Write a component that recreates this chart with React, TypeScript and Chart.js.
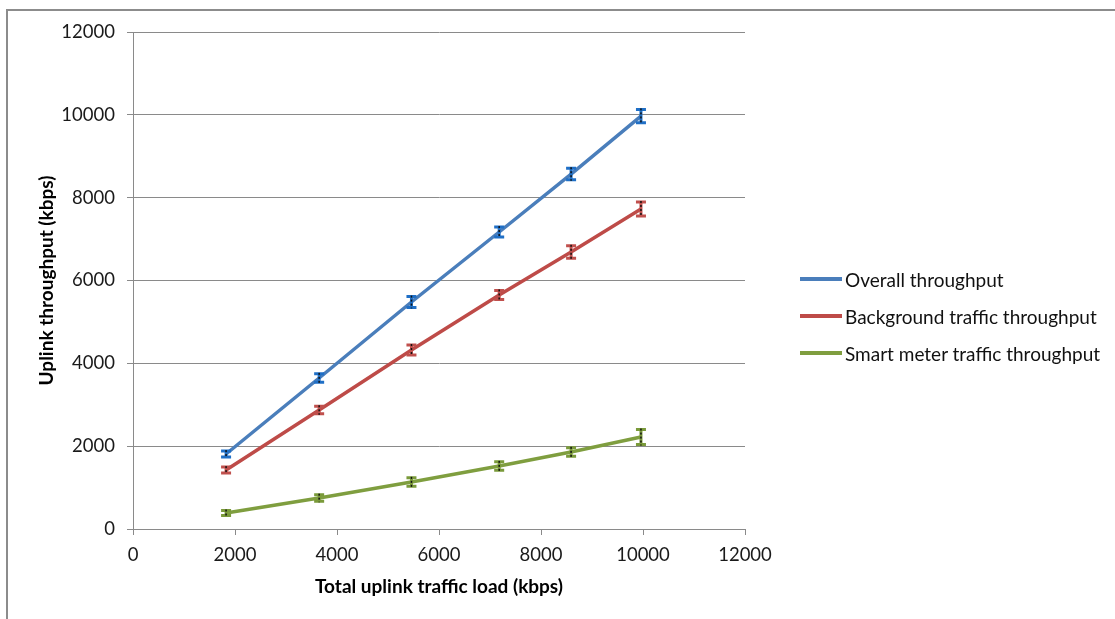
import React, { useEffect, useRef } from "react";
import { Chart, registerables } from "chart.js";

Chart.register(...registerables);

// Offered uplink load (kbps)
const loads = [1825, 3650, 5460, 7180, 8590, 9960];

// Measured throughput per traffic class (kbps)
const overall = [1811, 3646, 5481, 7171, 8571, 9971];
const background = [1424, 2873, 4322, 5650, 6688, 7726];
const smartMeter = [386, 749, 1135, 1521, 1859, 2221];

// Half-width of the error bars (kbps)
const overallErr = [70, 100, 130, 120, 140, 160];
const backgroundErr = [70, 90, 120, 110, 150, 170];
const smartMeterErr = [60, 80, 100, 100, 100, 180];

const seriesNames = [
  "Overall throughput",
  "Background traffic throughput",
  "Smart meter traffic throughput",
];
const lineColors = ["#4a7ebb", "#be4b48", "#7f9e3f"];
const capColors = ["#1f6fc6", "#c0504d", "#7a9a3a"];

const yTicks = [0, 2000, 4000, 6000, 8000, 10000, 12000];

const FONT = "Lato, 'Open Sans', sans-serif";

const errorBarPlugin = {
  id: "errorBars",
  afterDatasetsDraw(chart: any) {
    const { ctx, scales } = chart;
    const xs = scales.x;
    const ys = scales.y;
    chart.data.datasets.forEach((ds: any, di: number) => {
      const errs: number[] = ds.errors || [];
      ds.data.forEach((pt: any, i: number) => {
        const e = errs[i] || 0;
        const px = xs.getPixelForValue(pt.x);
        const top = ys.getPixelForValue(pt.y + e);
        const bot = ys.getPixelForValue(pt.y - e);
        ctx.save();
        ctx.strokeStyle = capColors[di];
        ctx.lineWidth = 3;
        ctx.beginPath();
        ctx.moveTo(px, top);
        ctx.lineTo(px, bot);
        ctx.moveTo(px - 5, top);
        ctx.lineTo(px + 5, top);
        ctx.moveTo(px - 5, bot);
        ctx.lineTo(px + 5, bot);
        ctx.stroke();
        ctx.strokeStyle = "#111";
        ctx.lineWidth = 1.5;
        ctx.setLineDash([2, 2]);
        ctx.beginPath();
        ctx.moveTo(px, top - 1);
        ctx.lineTo(px, bot + 1);
        ctx.stroke();
        ctx.restore();
      });
    });
  },
};

export default function App() {
  const canvasRef = useRef<HTMLCanvasElement | null>(null);

  useEffect(() => {
    const canvas = canvasRef.current;
    if (!canvas) return;
    const values = [overall, background, smartMeter];
    const errors = [overallErr, backgroundErr, smartMeterErr];
    const chart = new Chart(canvas, {
      type: "scatter",
      data: {
        datasets: values.map((vals, k) => ({
          label: seriesNames[k],
          data: loads.map((x, i) => ({ x, y: vals[i] })),
          errors: errors[k],
          showLine: true,
          borderColor: lineColors[k],
          backgroundColor: lineColors[k],
          borderWidth: 3.5,
          pointRadius: 0,
          pointHoverRadius: 0,
          tension: 0,
        })) as any,
      },
      options: {
        responsive: false,
        animation: false,
        devicePixelRatio: 1,
        layout: { padding: { left: 0, top: 32, right: 370, bottom: 0 } },
        plugins: {
          legend: { display: false },
          tooltip: { enabled: false },
        },
        scales: {
          x: {
            type: "linear",
            min: 0,
            max: 12000,
            afterFit: (s: any) => {
              s.height = 90;
            },
            ticks: {
              stepSize: 2000,
              color: "#1a1a1a",
              padding: 9,
              font: { family: FONT, size: 18.5 },
              callback: (v: any) => String(v),
            },
            grid: {
              drawOnChartArea: false,
              drawTicks: true,
              tickLength: 6,
              color: "#8a8a8a",
              tickColor: "#8a8a8a",
            },
            border: { display: true, color: "#8a8a8a", width: 1 },
            title: {
              display: true,
              text: "Total uplink traffic load (kbps)",
              color: "#000",
              font: { family: FONT, size: 19, weight: "bold" },
              padding: { top: 0, bottom: 20.5 },
            },
          },
          y: {
            type: "linear",
            min: 0,
            max: 12000,
            afterFit: (s: any) => {
              s.width = 133;
            },
            afterBuildTicks: (s: any) => {
              s.ticks = yTicks.map((v) => ({ value: v }));
            },
            ticks: {
              color: "#1a1a1a",
              padding: 12,
              font: { family: FONT, size: 18.5 },
              callback: (v: any) => String(v),
            },
            grid: {
              color: "#8a8a8a",
              tickColor: "#8a8a8a",
              tickLength: 6,
              lineWidth: 1,
            },
            border: { display: true, color: "#8a8a8a", width: 1 },
            title: {
              display: true,
              text: "Uplink throughput (kbps)",
              color: "#000",
              font: { family: FONT, size: 19, weight: "bold" },
              padding: { top: 35.5, bottom: 0 },
            },
          },
        },
      },
      plugins: [errorBarPlugin],
    });
    return () => chart.destroy();
  }, []);

  const legendTop = [279, 316, 353];

  return (
    <div
      style={{
        position: "fixed",
        left: 0,
        top: 0,
        width: 1115,
        height: 619,
        background: "#fff",
        overflow: "hidden",
      }}
    >
      <div
        style={{
          position: "absolute",
          left: 6,
          top: 9,
          width: 1300,
          height: 800,
          border: "2px solid #8c8c8c",
        }}
      />
      <canvas
        ref={canvasRef}
        width={1115}
        height={619}
        style={{ position: "absolute", left: 0, top: 0, width: 1115, height: 619 }}
      />
      {seriesNames.map((name, k) => (
        <div
          key={name}
          style={{
            position: "absolute",
            left: 800,
            top: legendTop[k] - 13,
            height: 26,
            display: "flex",
            alignItems: "center",
            fontFamily: FONT,
            fontSize: 19,
            color: "#111",
            whiteSpace: "nowrap",
          }}
        >
          <span
            style={{
              display: "inline-block",
              width: 42,
              height: 4,
              background: lineColors[k],
              marginRight: 3,
            }}
          />
          <span>{name}</span>
        </div>
      ))}
    </div>
  );
}
